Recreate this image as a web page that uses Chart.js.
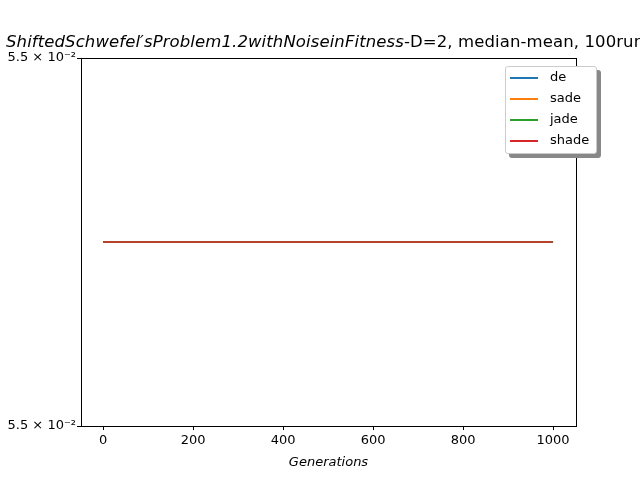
<!DOCTYPE html>
<html>
<head>
<meta charset="utf-8">
<script src="https://cdn.jsdelivr.net/npm/chart.js@4"></script>
<style>
  body { margin: 0; background: #fff; font-family: "DejaVu Sans", sans-serif; }
  #wrap { position: relative; width: 640px; height: 480px; overflow: hidden; }
  #title { position: absolute; top: 32px; left: 6px; white-space: nowrap; font-size: 16.5px; letter-spacing: 0.1px; color: #000; }
  #xlabel { position: absolute; top: 454px; left: 0; width: 657px; text-align: center; font-size: 13px; font-style: italic; }
  #legend { position: absolute; left: 505px; top: 66px; width: 90px; height: 86px; background: #fff;
            border: 1px solid #ccc; border-radius: 3px; box-shadow: 4px 4px 0 #888; font-size: 13px; }
  .row { position: absolute; left: 4px; height: 20px; line-height: 20px; }
  .row i { display: inline-block; width: 28px; height: 2px; vertical-align: middle; margin-right: 12px; }
</style>
</head>
<body>
<div id="wrap">
  <canvas id="c" width="640" height="480"></canvas>
  <div id="title"><i>ShiftedSchwefel′sProblem1.2withNoiseinFitness</i>-D=2, median-mean, 100runs</div>
  <div id="xlabel">Generations</div>
  <div id="legend"></div>
</div>
<script>
const generations = [0, 1000];
const seriesNames = ['de', 'sade', 'jade', 'shade'];
const seriesColors = ['#1f77b4', '#ff7f0e', '#2ca02c', '#d62728'];
const deValues = [0.055, 0.055];
const sadeValues = [0.055, 0.055];
const jadeValues = [0.055, 0.055];
const shadeValues = [0.055, 0.055];
const xTicks = [0, 200, 400, 600, 800, 1000];
const yTickLabel = '5.5 × 10⁻²';

const allValues = [deValues, sadeValues, jadeValues, shadeValues];

const legend = document.getElementById('legend');
seriesNames.forEach((n, i) => {
  legend.innerHTML += `<div class="row" style="top:${i * 21}px"><i style="background:${seriesColors[i]}"></i>${n}</div>`;
});

const frame = {
  id: 'frame',
  afterDraw(chart) {
    const a = chart.chartArea, ctx = chart.ctx;
    ctx.save();
    ctx.strokeStyle = '#000';
    ctx.lineWidth = 1;
    ctx.strokeRect(a.left + 0.5, a.top + 0.5, a.right - a.left, a.bottom - a.top);
    ctx.restore();
  }
};

new Chart(document.getElementById('c'), {
  type: 'line',
  data: {
    datasets: seriesNames.map((n, i) => ({
      label: n,
      data: generations.map((g, j) => ({ x: g, y: allValues[i][j] })),
      borderColor: seriesColors[i],
      borderWidth: 1.5,
      pointRadius: 0,
      fill: false,
      order: seriesNames.length - i,
    })),
  },
  options: {
    responsive: false,
    animation: false,
    layout: { padding: { top: 58, right: 64, left: 0, bottom: 0 } },
    plugins: { legend: { display: false }, tooltip: { enabled: false } },
    scales: {
      x: {
        type: 'linear',
        min: -49, max: 1051,
        afterBuildTicks: s => { s.ticks = xTicks.map(v => ({ value: v })); },
        afterFit: s => { s.height = 54; },
        grid: { drawOnChartArea: false, tickLength: 4, color: '#000' },
        border: { display: false },
        ticks: { color: '#000', font: { family: 'DejaVu Sans', size: 13 }, maxRotation: 0, padding: 3, callback: v => String(v) },
      },
      y: {
        min: 0.0549, max: 0.0551,
        afterBuildTicks: s => { s.ticks = [{ value: 0.0549 }, { value: 0.0551 }]; },
        afterFit: s => { s.width = 81; },
        grid: { drawOnChartArea: false, tickLength: 4, color: '#000' },
        border: { display: false },
        ticks: { color: '#000', font: { family: 'DejaVu Sans', size: 13 }, padding: 1, callback: () => yTickLabel },
      },
    },
  },
  plugins: [frame],
});
</script>
</body>
</html>
